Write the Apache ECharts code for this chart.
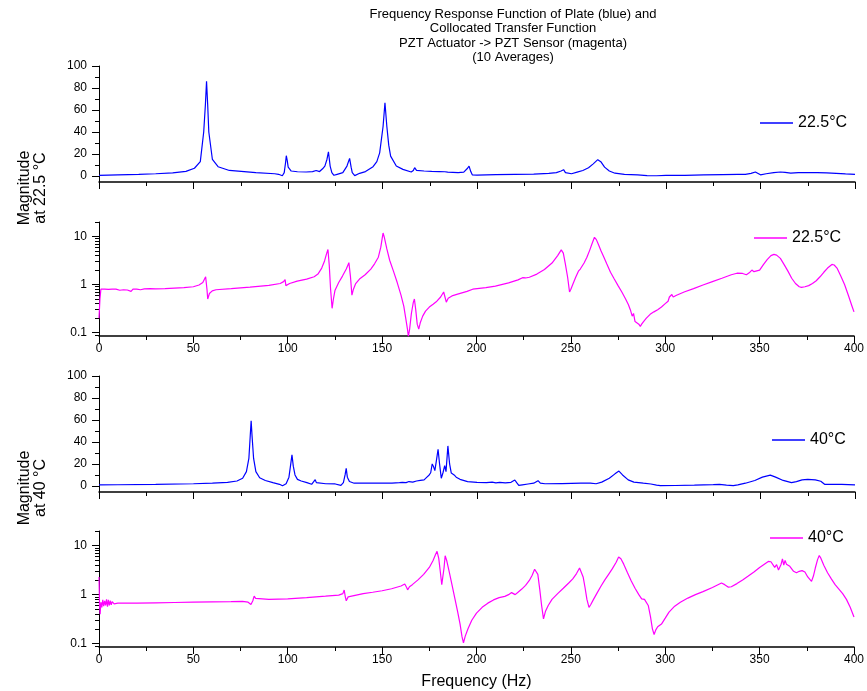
<!DOCTYPE html>
<html>
<head>
<meta charset="utf-8">
<script src="https://cdn.jsdelivr.net/npm/echarts/dist/echarts.min.js"></script>
<style>
html,body{margin:0;padding:0;background:#fff;}
#chart{width:867px;height:691px;}
</style>
</head>
<body>
<div id="chart"></div>
<script>
// ---------- DATA ----------
const titleLines = ['Frequency Response Function of Plate (blue) and', 'Collocated Transfer Function', 'PZT Actuator -> PZT Sensor (magenta)', '(10 Averages)'];
const xTickLabels = [0, 50, 100, 150, 200, 250, 300, 350, 400];
const linTickLabels = [0, 20, 40, 60, 80, 100];
const linMinorTicks = [10, 30, 50, 70, 90];
const logTickLabels = [0.1, 1, 10];
const logMinorTicks = [0.09, 0.2, 0.3, 0.4, 0.5, 0.6, 0.7, 0.8, 0.9, 2, 3, 4, 5, 6, 7, 8, 9, 20];
const legendNames = ['22.5°C', '22.5°C', '40°C', '40°C'];
const yNames = ['Magnitude\nat 22.5 °C', 'Magnitude\nat 40 °C'];

// Panel 1: plate FRF at 22.5 C (blue, linear)
const freqPlate22 = [0,1,10,21,30,39,46,50.5,53.6,55.4,56.3,56.9,57.5,58.1,60,63,69,83,93,95,97,98,98.7,99.1,99.6,100.1,101.7,105,109.6,113,114.9,116.7,118.3,119.5,120.6,121.4,122.3,123.2,124.3,126,129,131.2,132.6,133.4,134,135.3,137.9,141,145,147,148.5,150.3,151.3,152.3,153.3,154.3,157.3,160.8,165.2,166.3,167,168,168.8,172,176,180,183,183.6,184.5,190,193,195,195.8,196.7,197.5,200,210,220,230,238,242,244.5,245.8,246.8,247.8,250,253,256,259,261.5,263.9,265.5,267.5,270,273,278,285,290,295,300,310,320,330,338,342,345,347.3,348.5,350,353,357,360.5,363,366,370,375,380,385,390,395,400];
const magPlate22 = [0.5,0.6,1.0,1.5,2.0,2.8,4.2,7,13,40,65,86,65,40,15,8.4,5,3,2,1.5,0.2,3,12,18.4,14,8,4.5,3.8,3.6,4,5,4,6.5,9,15,22,9,3,0.6,1.5,3,9,16,8,3,0.3,2.4,4,8.4,13,21,45,66.6,45,28,18,9,6,3.6,5,7.5,5,5,4.5,4.2,4,3.8,4.8,3.4,3,3.5,7,9,4,1,0.8,1.2,1.5,1.7,2.3,3,4.5,5.7,3,1.2,2,3.5,5,7.5,11,14.8,13,8,4.5,2.5,1.5,1,0.3,0.2,0.5,0.6,0.9,1.2,1.4,1.5,2.3,3.6,2.5,1,2.0,3,3.6,3.2,2.6,3,3,3,2.8,2.3,1.8,1.4];

// Panel 2: PZT->PZT at 22.5 C (magenta, log)
const freqPzt22 = [0,0.5,1,2,3,4,5,6,7,8,9,10,11,12,13,14,15,16,17,18,19,20,22,24,25,27,28,30,35,40,45,50,53,55,56.5,57.2,57.6,58.5,60,62,70,80,90,96,97.8,98.6,99,99.5,101,105,110,114,116,118,119.5,120.5,121.3,122,122.7,123.5,124.2,125,127,129,131,132.4,133.2,134,134.8,136,138,141,144,146,148,149.3,150.1,150.5,151.2,152.5,154,156,158,160,161.5,162.5,163.4,163.9,164.6,165.5,166.5,167.1,167.8,168.6,169.4,170.2,171.5,173,175,177,179,181,182.6,183.3,184,185,187,190,195,198,205,210,217,222,224.4,226,228,232,236,240,243,244.9,246,247,248.3,249.3,250,251,252.5,254,255,256,257,258.5,260,261.3,262.5,263.5,264.5,266,267.5,269,271,273,275,277,279,280.5,281.5,282.5,283.2,284,285,286,286.8,287.5,288.5,290,292,294,296,298,300,301.5,302.2,302.8,303.5,304.2,306,310,315,320,325,330,335,338,341,343,344.5,345.9,347,348,350,352,354,356,357.6,359,361,363,365,367,369,371,372.2,374,376,378,380,382,384,386,388.3,389.5,391,393,395,397,399,400];
const magPzt22 = [0.2,0.5,0.8,0.76,0.8,0.77,0.79,0.75,0.8,0.77,0.8,0.78,0.76,0.8,0.78,0.8,0.77,0.79,0.72,0.8,0.78,0.8,0.78,0.81,0.79,0.82,0.8,0.81,0.82,0.84,0.86,0.9,0.98,1.1,1.45,0.8,0.5,0.65,0.74,0.78,0.82,0.88,0.96,1.05,1.15,1.27,0.95,0.98,1.05,1.18,1.3,1.45,1.65,2.2,3.1,4.3,5.35,2.5,0.8,0.32,0.5,0.75,1.1,1.5,2.1,2.85,1.5,0.6,0.8,1.05,1.3,1.6,2.1,2.7,3.7,6,9.5,11.8,9.5,5.5,3.2,1.9,1.1,0.6,0.35,0.2,0.12,0.083,0.12,0.25,0.42,0.5,0.3,0.15,0.118,0.16,0.22,0.28,0.34,0.39,0.45,0.55,0.7,0.55,0.43,0.52,0.58,0.63,0.72,0.8,0.86,0.93,1.08,1.25,1.39,1.37,1.42,1.65,2.05,2.8,4,5.27,4.5,2.8,1.4,0.7,0.8,1.0,1.4,1.9,2.1,2.2,2.8,3.7,5.2,7.2,9.6,8.6,7,5,3.7,2.7,1.8,1.3,0.95,0.7,0.5,0.38,0.3,0.22,0.25,0.17,0.18,0.15,0.134,0.15,0.17,0.2,0.24,0.27,0.3,0.34,0.4,0.45,0.55,0.5,0.62,0.55,0.6,0.7,0.82,0.98,1.15,1.35,1.6,1.72,1.7,1.6,1.75,2.0,1.85,1.75,2.0,2.6,3.3,4.0,4.23,4.1,3.5,2.6,1.9,1.35,1.05,0.9,0.87,0.9,0.95,1.05,1.2,1.45,1.8,2.2,2.62,2.55,2.2,1.5,1.0,0.6,0.35,0.27];

// Panel 3: plate FRF at 40 C (blue, linear)
const freqPlate40 = [0,10,30,50,60,68,73,76,78,79.3,80,80.5,81,81.8,83,85,88,92,95.5,97.1,99,100.5,101.3,102.1,102.8,103.7,105,107,110,112.5,113.5,114.4,115,116,120,125,128,129.3,130.2,130.8,131.4,132.5,135,145,155,159,160.5,161.5,162.5,164,166,168,170,171,172,173.5,174.7,175.5,176.3,176.9,177.7,178.6,179.4,180.2,181.1,182,182.9,183.6,184.6,185.5,186.4,187.9,189,191,195,200,205,208,210,212,215,218,220,221,222.1,224,227,230,231,232.3,233.5,236,245,255,260,263,266,270,273,275.1,277,280,283,288,292,295,297,305,315,325,328.3,332,335.6,338,342,347,351,355.2,358,362,366.4,369,372,375,379,381.9,383.9,387,393,400];
const magPlate40 = [1,1.1,1.4,2,2.5,3.2,4.5,7,13,25,45,59.3,45,25,13,7.5,5,3,1.5,0.2,2,8,18,28.3,18,10,6,4.5,3,1.5,2,5.7,3,2.2,2,1.8,0.5,3,10,16,8,4,2.5,2.5,2.6,3,3.2,4.2,3,4,3.5,4.5,5,6.5,5.5,8,10,12,20,18,14,24,33.4,20,7,12,18.4,13,36.4,20,11.7,10,8,6,4,3.2,3,3.5,2.8,3.2,2.8,3.3,5.4,3,0.5,1,1.8,2.5,3,4.8,2.5,2,2.2,2.5,2.6,2,3.5,7,11,13.5,10,5.5,3.5,2.5,1.8,0.8,0.3,0.4,0.7,1.2,1.5,0.8,0.3,1,2.5,5,8,9.9,8,5,3,4,5.5,6,5.5,4.3,1.5,1.5,1.4,1];

// Panel 4: PZT->PZT at 40 C (magenta, log)
const freqPzt40 = [0,0.3,0.6,1,1.5,2,2.5,3,3.5,4,4.5,5,5.5,6,6.5,7,8,9,10,20,30,40,50,60,70,76,79,80.5,81.5,82.2,83,84,90,100,110,120,127,129.2,129.9,130.5,131,132,133,140,145,150,155,160,162,162.4,163,163.5,164.5,166,169,172,175,177,178.3,179.1,180,180.8,181.6,182,182.8,183.4,184.2,185.5,187,188.5,190,191.3,192.3,193.1,194,195.5,197.5,200,203,206,209,212,215,217,218.6,219.5,220.5,222,224,226,228,229.5,230.8,231.8,232.5,233.5,234.5,235.5,236.5,238,240,243,246,249,251,253,254.6,255.5,256.5,257.5,258.5,259.6,260.5,262,264,266,268,270,272,274,275.3,276.5,278,280,282,284,286,287.5,289,290,291,292.2,293.2,294.1,295,296,297,298,300,302,305,308,312,316,320,325,329.8,331.5,333.5,335,338,341,344,347,350,352.5,354.6,356,357,358,359,360,360.7,361.4,362.1,362.8,363.5,364.2,365,366,368,369.5,371,372.5,374,375.5,377.5,378.5,379.5,380.7,381.6,382.5,384,386,388,390,392,394,396,398,400];
const magPzt40 = [2.3,0.6,0.4,0.7,0.55,0.78,0.58,0.75,0.6,0.8,0.57,0.78,0.6,0.75,0.62,0.72,0.65,0.69,0.67,0.67,0.68,0.69,0.7,0.71,0.72,0.73,0.7,0.63,0.75,0.93,0.84,0.8,0.8,0.82,0.87,0.93,0.98,1.05,1.24,0.9,0.75,0.9,0.95,1.05,1.12,1.2,1.32,1.5,1.65,1.76,1.4,1.25,1.45,1.6,2.0,2.6,3.6,5,6.6,7.67,5.5,3,1.6,1.53,3.5,6.25,5,3,1.6,0.85,0.45,0.25,0.14,0.103,0.14,0.2,0.3,0.42,0.55,0.67,0.78,0.87,0.92,1.0,1.1,1.05,1.0,1.12,1.3,1.55,1.95,2.5,3.3,3.6,2.6,1.3,0.6,0.32,0.45,0.6,0.8,1.05,1.35,1.75,2.1,2.7,3.5,3.2,2.3,1.4,0.8,0.55,0.62,0.8,1.1,1.5,2.0,2.6,3.4,4.6,5.9,5.4,4.2,2.8,1.9,1.35,1.0,0.82,0.8,0.75,0.6,0.35,0.2,0.153,0.19,0.22,0.21,0.25,0.33,0.44,0.58,0.7,0.85,1.0,1.15,1.4,1.73,1.6,1.42,1.45,1.68,2.0,2.4,2.9,3.6,4.2,4.78,4.7,4.3,3.6,4.1,3.2,3.0,4.2,5.4,4.0,5.0,4.2,4.6,3.8,3.0,2.8,3.0,3.1,2.9,2.3,1.87,2.4,3.5,5.2,6.3,5.5,4.0,2.8,2.1,1.6,1.3,1.05,0.8,0.55,0.35];

// ---------- LAYOUT / STYLE ----------
const FONT = '"Liberation Sans", Arial, sans-serif';
const BLUE = '#0000FF', MAGENTA = '#FF00FF';
const LIN_MIN = -5.5, LIN_MAX = 100, LOG_MIN = 0.085, LOG_MAX = 20;
const grids = [
  {left: 99, right: 12, top: 66, height: 116},
  {left: 99, right: 12, top: 222, height: 114},
  {left: 99, right: 12, top: 376, height: 116},
  {left: 99, right: 12, top: 531, height: 116}
];
const isLog = [false, true, false, true];
const panelFreq = [freqPlate22, freqPzt22, freqPlate40, freqPzt40];
const panelMag = [magPlate22, magPzt22, magPlate40, magPzt40];
const panelColor = [BLUE, MAGENTA, BLUE, MAGENTA];
const legendPos = [{left: 760, top: 115}, {left: 754, top: 230}, {left: 772, top: 432}, {left: 770, top: 530}];

const xAxes = [], yAxes = [], series = [], legends = [];
grids.forEach((g, i) => {
  xAxes.push({
    gridIndex: i, type: 'value', min: 0, max: 400, interval: 50,
    axisLine: {onZero: false, lineStyle: {color: '#000', width: 1.5}},
    axisTick: {length: 7, lineStyle: {color: '#000'}},
    minorTick: {show: true, splitNumber: 2, length: 4, lineStyle: {color: '#000'}},
    axisLabel: {show: isLog[i], margin: 7, color: '#000', fontSize: 12, fontFamily: FONT},
    splitLine: {show: false}, minorSplitLine: {show: false},
    name: i === 3 ? 'Frequency (Hz)' : '', nameLocation: 'middle', nameGap: 27,
    nameTextStyle: {color: '#000', fontSize: 16, fontFamily: FONT}
  });
  if (!isLog[i]) {
    yAxes.push({
      gridIndex: i, type: 'value', min: LIN_MIN, max: LIN_MAX, position: 'left',
      axisLine: {lineStyle: {color: '#000', width: 1}},
      axisTick: {length: 7, customValues: linTickLabels, lineStyle: {color: '#000'}},
      axisLabel: {customValues: linTickLabels, margin: 12, color: '#000', fontSize: 12, fontFamily: FONT},
      splitLine: {show: false}
    });
    yAxes.push({
      gridIndex: i, type: 'value', min: LIN_MIN, max: LIN_MAX, position: 'left',
      axisLine: {show: false},
      axisTick: {length: 4, customValues: linMinorTicks, lineStyle: {color: '#000'}},
      axisLabel: {show: false}, splitLine: {show: false}
    });
  } else {
    yAxes.push({
      gridIndex: i, type: 'log', logBase: 10, min: LOG_MIN, max: LOG_MAX, position: 'left',
      axisLine: {lineStyle: {color: '#000', width: 1}},
      axisTick: {length: 7, lineStyle: {color: '#000'}},
      axisLabel: {showMinLabel: false, showMaxLabel: false, margin: 12, color: '#000', fontSize: 12, fontFamily: FONT,
        formatter: v => (Math.abs(v - 0.1) < 1e-9 ? '0.1' : String(Math.round(v)))},
      splitLine: {show: false}, minorTick: {show: false}
    });
    // minor log ticks (positions given in decades on a helper axis)
    yAxes.push({
      gridIndex: i, type: 'value', min: Math.log10(LOG_MIN), max: Math.log10(LOG_MAX), position: 'left',
      axisLine: {show: false},
      axisTick: {length: 4, customValues: logMinorTicks.map(v => Math.log10(v)), lineStyle: {color: '#000'}},
      axisLabel: {show: false}, splitLine: {show: false}
    });
  }
  const name = 's' + i;
  series.push({
    name: name, type: 'line', xAxisIndex: i, yAxisIndex: i * 2,
    data: panelFreq[i].map((f, k) => [f, panelMag[i][k]]),
    symbol: 'none', smooth: false, clip: true,
    lineStyle: {color: panelColor[i], width: 1.2}, itemStyle: {color: panelColor[i]},
    emphasis: {disabled: true}, animation: false
  });
  legends.push({
    data: [name], left: legendPos[i].left, top: legendPos[i].top, orient: 'horizontal', padding: 0,
    icon: 'rect', itemWidth: 33, itemHeight: 1.3, itemGap: 4, selectedMode: false,
    formatter: () => legendNames[i],
    textStyle: {color: '#000', fontSize: 16, fontFamily: FONT}
  });
});

const graphics = [
  {type: 'text', x: 513, y: 7, silent: true,
   style: {text: titleLines.join('\n'), fill: '#000', font: '13px ' + FONT, align: 'center', textAlign: 'center', verticalAlign: 'top', lineHeight: 14.5}},
  {type: 'text', x: 33, y: 188, rotation: Math.PI / 2, silent: true,
   style: {text: yNames[0], fill: '#000', font: '16px ' + FONT, align: 'center', textAlign: 'center', verticalAlign: 'middle', lineHeight: 16}},
  {type: 'text', x: 33, y: 488, rotation: Math.PI / 2, silent: true,
   style: {text: yNames[1], fill: '#000', font: '16px ' + FONT, align: 'center', textAlign: 'center', verticalAlign: 'middle', lineHeight: 16}}
];

const chart = echarts.init(document.getElementById('chart'), null, {renderer: 'canvas'});
chart.setOption({
  backgroundColor: '#fff',
  animation: false,
  grid: grids,
  xAxis: xAxes,
  yAxis: yAxes,
  series: series,
  legend: legends,
  graphic: graphics
});
</script>
</body>
</html>
